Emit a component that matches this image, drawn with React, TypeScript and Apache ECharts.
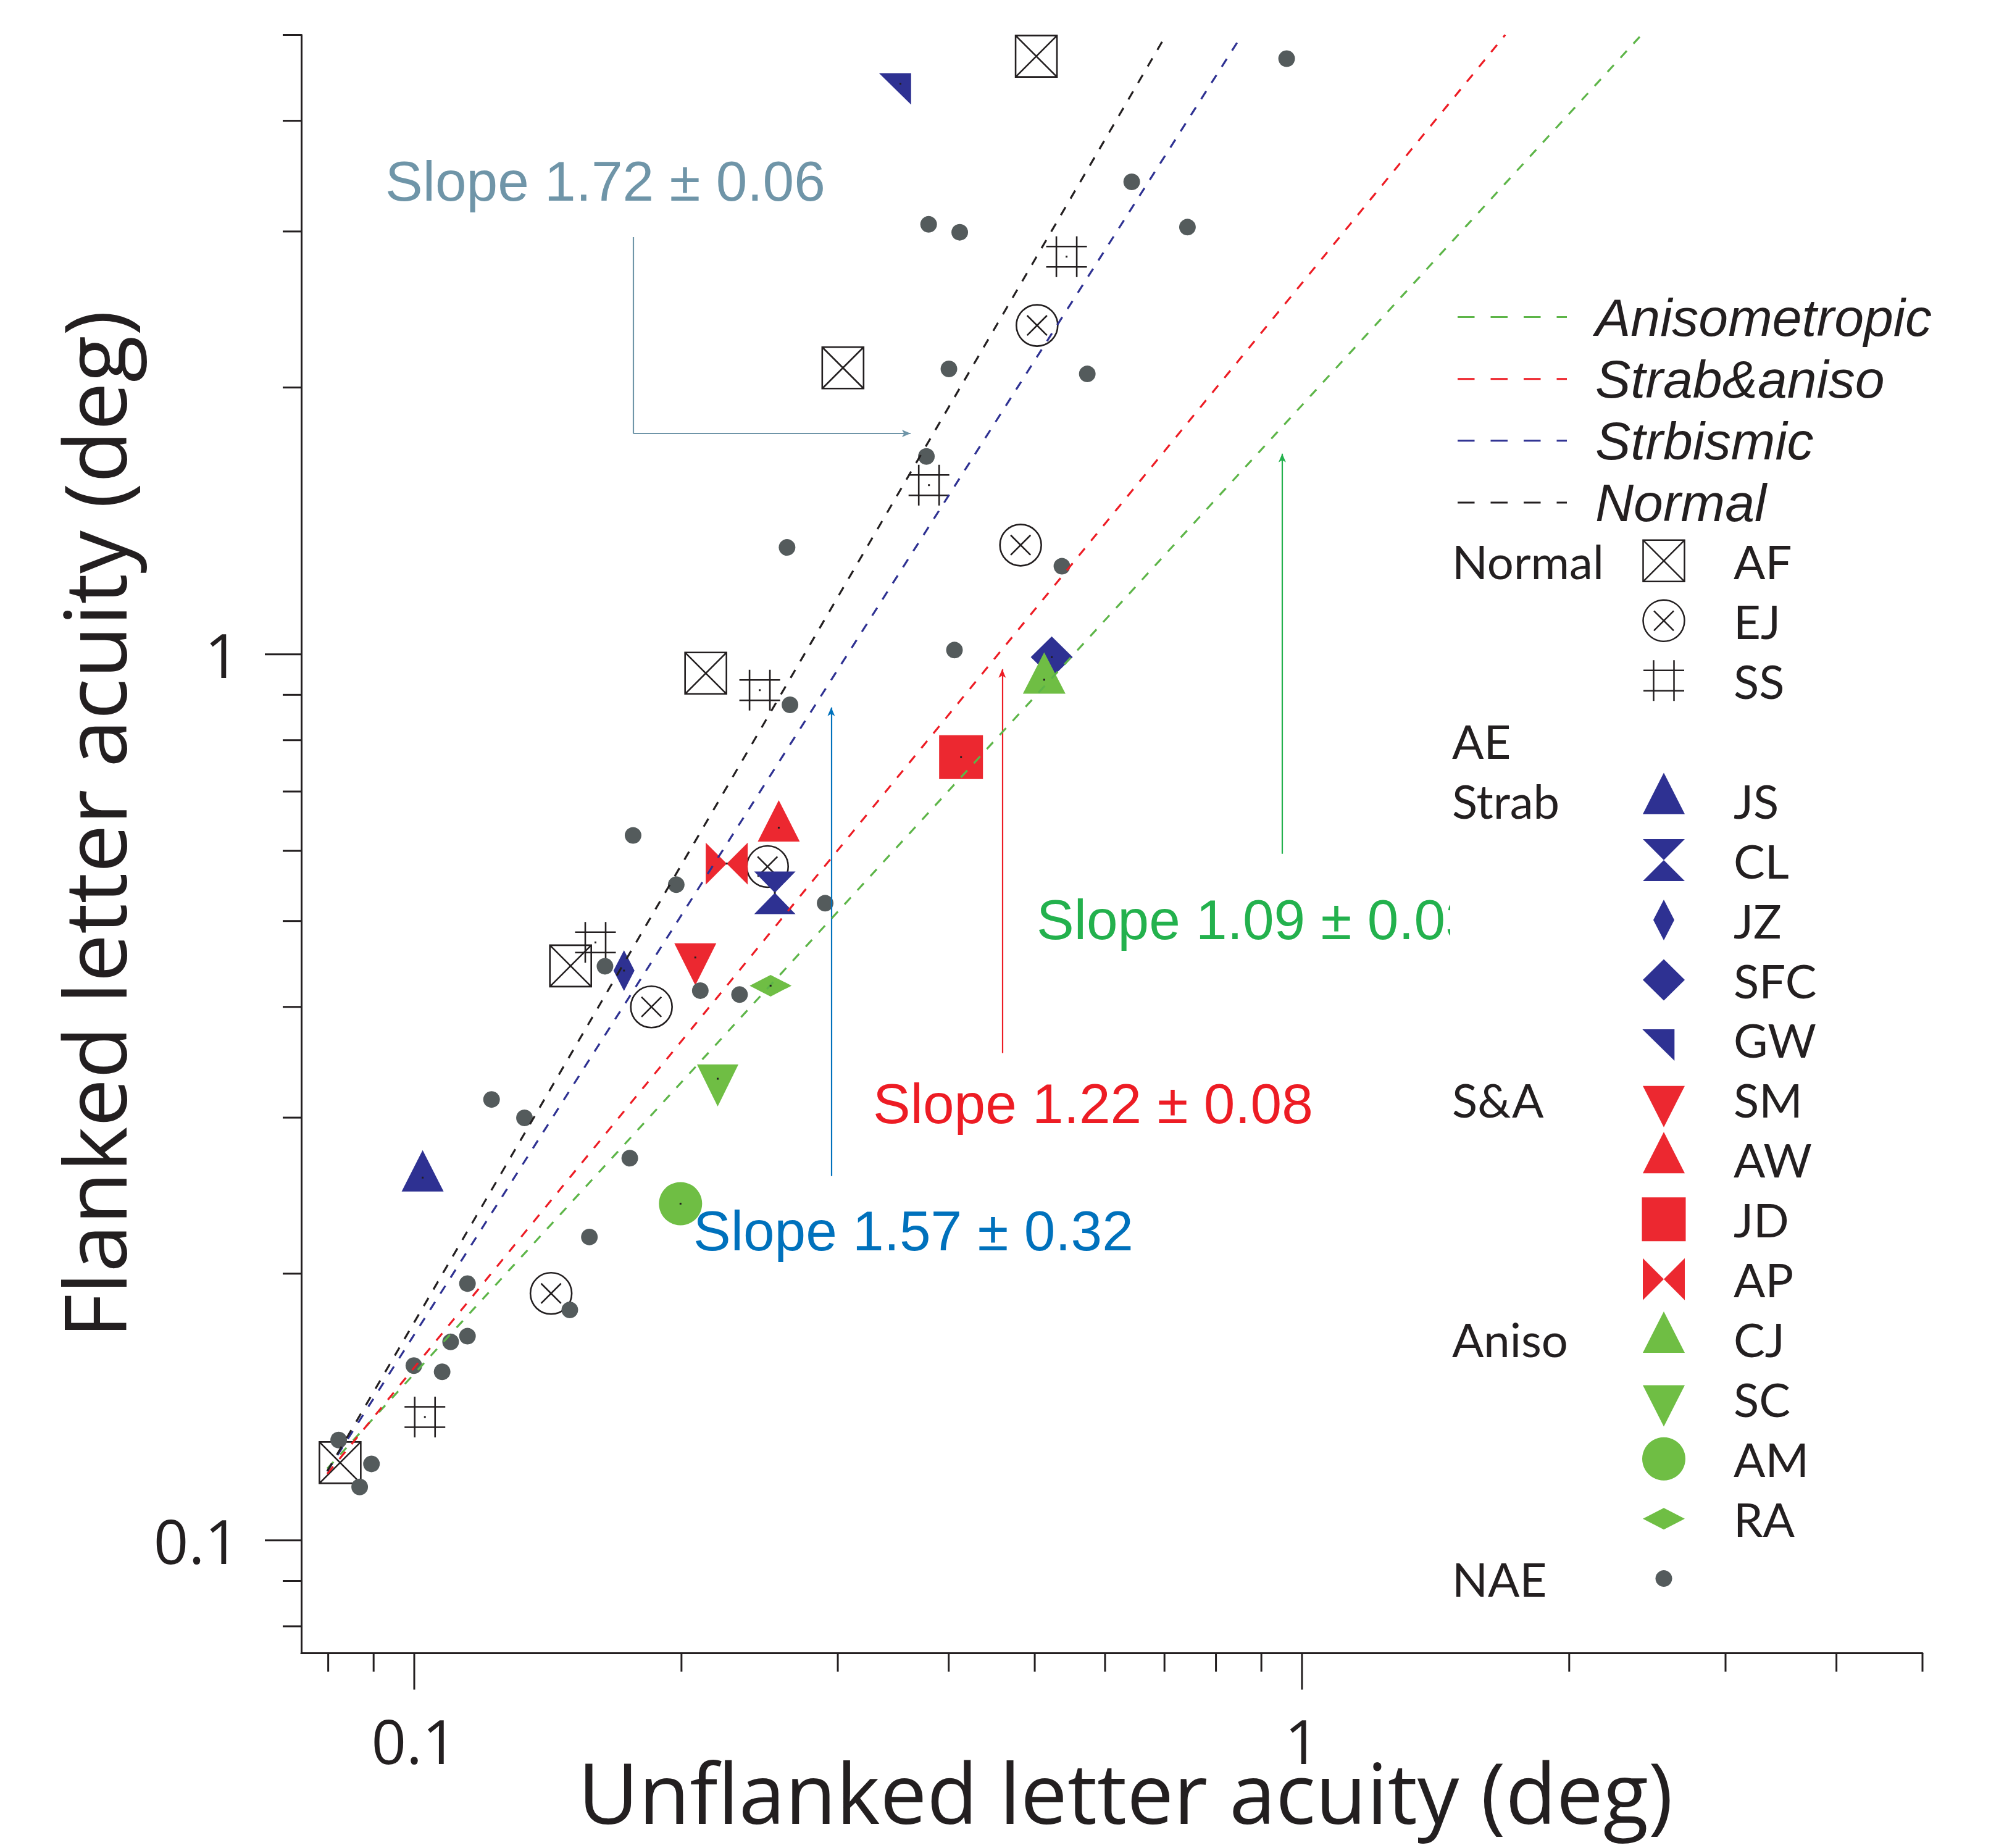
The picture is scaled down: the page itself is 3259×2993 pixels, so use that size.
import React, { useEffect, useRef } from "react";
import * as echarts from "echarts";

// ---------------- data ----------------
// Normal observers
const AF = [[0.502, 4.73], [0.304, 2.105], [0.213, 0.952], [0.15, 0.445], [0.0825, 0.1224]];
const EJ = [[0.503, 2.35], [0.482, 1.328], [0.25, 0.576], [0.185, 0.4], [0.1426, 0.19]];
const SS = [[0.543, 2.81], [0.38, 1.552], [0.245, 0.911], [0.16, 0.473], [0.1028, 0.1378]];
// Amblyopic eyes: strabismic
const JS = [[0.1022, 0.2567]];
const CL = [[0.2548, 0.538]];
const JZ = [[0.1723, 0.4396]];
const SFC = [[0.5225, 0.9926]];
const GW = [[0.3529, 4.404]];
// strabismic & anisometropic
const SM = [[0.2073, 0.4548]];
const AW = [[0.2574, 0.6373]];
const JD = [[0.413, 0.7655]];
const AP = [[0.2249, 0.5805]];
// anisometropic
const CJ = [[0.5124, 0.936]];
const SC = [[0.2197, 0.3319]];
const AM = [[0.1995, 0.2399]];
const RA = [[0.252, 0.4227]];
// non-amblyopic eyes
const NAE = [
  [0.961, 4.7], [0.643, 3.413], [0.3797, 3.056], [0.4116, 2.994], [0.743, 3.034],
  [0.4002, 2.099], [0.573, 2.072], [0.3775, 1.672], [0.263, 1.32], [0.5365, 1.257],
  [0.406, 1.011], [0.265, 0.877], [0.2903, 0.5237], [0.21, 0.4173], [0.2325, 0.413],
  [0.1764, 0.6245], [0.1973, 0.5495], [0.164, 0.4446], [0.1222, 0.3145], [0.1331, 0.2998],
  [0.1749, 0.27], [0.1575, 0.22], [0.1148, 0.1949], [0.1497, 0.182], [0.1148, 0.17],
  [0.1099, 0.1675], [0.0999, 0.1575], [0.1075, 0.155], [0.0822, 0.1298], [0.0895, 0.122],
  [0.0868, 0.1149],
];

// regression lines (end points)
const FIT_NORMAL = [[0.0798, 0.1197], [0.703, 5]];
const FIT_STRAB = [[0.0798, 0.1197], [0.856, 5]];
const FIT_SA = [[0.0798, 0.1189], [1.694, 5]];
const FIT_ANISO = [[0.0798, 0.1205], [2.412, 5]];

// annotation arrows (data coordinates)
const ARROW_NORMAL = [[0.1765, 2.957], [0.1765, 1.775], [0.3623, 1.775]];
const ARROW_STRAB = [[0.2949, 0.2577], [0.2949, 0.871]];
const ARROW_SA = [[0.4595, 0.3548], [0.4595, 0.9619]];
const ARROW_ANISO = [[0.95, 0.5955], [0.95, 1.684]];

const SLOPE_LABELS = ["Slope 1.72 ± 0.06", "Slope 1.57 ± 0.32", "Slope 1.22 ± 0.08", "Slope 1.09 ± 0.03"];

// axes
const AXIS_MIN = 0.0746;
const AXIS_MAX = 5;
const TICKS = [0.08, 0.09, 0.1, 0.2, 0.3, 0.4, 0.5, 0.6, 0.7, 0.8, 0.9, 1, 2, 3, 4, 5];
const MAJOR_TICKS = [0.1, 1];
const TICK_LABELS = ["0.1", "1"];
const X_TITLE = "Unflanked letter acuity (deg)";
const Y_TITLE = "Flanked letter acuity (deg)";

// legend
const LINE_LEGEND = ["Anisometropic", "Strab&aniso", "Strbismic", "Normal"];
const LEGEND_ROWS = ["AF", "EJ", "SS", "", "JS", "CL", "JZ", "SFC", "GW", "SM", "AW", "JD", "AP", "CJ", "SC", "AM", "RA", "NAE"];
const GROUP_LABELS = [["Normal", 0], ["AE", 3], ["Strab", 4], ["S&A", 9], ["Aniso", 13], ["NAE", 17]];

// ---------------- styles ----------------
const BLACK = "#231F20";
const BLUE = "#2E3192";
const RED = "#EC2830";
const GREEN = "#6FBE44";
const GRAY = "#545B5C";
const LINE_GREEN = "#5DB548";
const LINE_RED = "#ED1C24";
const TXT_GRAY = "#6F95A8";
const TXT_BLUE = "#0071BC";
const TXT_RED = "#ED1C24";
const TXT_GREEN = "#23B14D";
const SANS = '"Liberation Sans", Arial, sans-serif';
const AXISFONT = '"Open Sans", sans-serif';
const LEGFONT = 'Lato, sans-serif';

const SYM: Record<string, any> = {
  AF: { symbol: "path://M0,0L1,0L1,1L0,1ZM0,0L1,1M1,0L0,1", size: 67, fill: "rgba(0,0,0,0)", stroke: BLACK, z: 2 },
  EJ: { symbol: "path://M0.5,0A0.5,0.5,0,1,1,0.5,1A0.5,0.5,0,1,1,0.5,0ZM0.26,0.26L0.74,0.74M0.74,0.26L0.26,0.74", size: 67, fill: "rgba(0,0,0,0)", stroke: BLACK, z: 2 },
  SS: { symbol: "path://M0.25,0L0.25,1M0.75,0L0.75,1M0,0.25L1,0.25M0,0.75L1,0.75", size: 66, fill: "rgba(0,0,0,0)", stroke: BLACK, z: 2 },
  JS: { symbol: "triangle", size: [68, 67], fill: BLUE, offset: [0, -11], z: 3 },
  CL: { symbol: "path://M0,0L1,0L0.5,0.5ZM0.5,0.5L1,1L0,1Z", size: [67, 69], fill: BLUE, z: 3 },
  JZ: { symbol: "diamond", size: [34, 66], fill: BLUE, z: 3 },
  SFC: { symbol: "diamond", size: [68, 67], fill: BLUE, z: 3 },
  GW: { symbol: "path://M0,0L1,0L1,1Z", size: [52, 51], fill: BLUE, offset: [-8.7, 8.5], z: 3 },
  SM: { symbol: "path://M0,0L1,0L0.5,1Z", size: [68, 68], fill: RED, offset: [0, 11], z: 3 },
  AW: { symbol: "triangle", size: [68, 67], fill: RED, offset: [0, -11], z: 3 },
  JD: { symbol: "rect", size: 71, fill: RED, z: 3 },
  AP: { symbol: "path://M0,0L0.5,0.5L0,1ZM1,0L0.5,0.5L1,1Z", size: 68, fill: RED, z: 3 },
  CJ: { symbol: "triangle", size: [69, 67], fill: GREEN, offset: [0, -11], z: 3 },
  SC: { symbol: "path://M0,0L1,0L0.5,1Z", size: [67, 68], fill: GREEN, offset: [0, 11], z: 3 },
  AM: { symbol: "circle", size: 70, fill: GREEN, z: 3 },
  RA: { symbol: "diamond", size: [68, 35], fill: GREEN, z: 3 },
};

const SUBJECT_DATA: Record<string, number[][]> = { AF, EJ, SS, JS, CL, JZ, SFC, GW, SM, AW, JD, AP, CJ, SC, AM, RA };

function legendSymbol(key: string, cx: number, cy: number): any[] {
  const S = { stroke: BLACK, lineWidth: 2.5, fill: "none" };
  const poly = (pts: number[][], fill: string) => ({ type: "polygon", shape: { points: pts.map(([dx, dy]) => [cx + dx, cy + dy]) }, style: { fill } });
  const up = (fill: string) => poly([[-34, 22.3], [34, 22.3], [0, -44.7]], fill);
  const down = (fill: string) => poly([[-34, -22.3], [34, -22.3], [0, 44.7]], fill);
  switch (key) {
    case "AF":
      return [
        { type: "rect", shape: { x: cx - 33.5, y: cy - 33.5, width: 67, height: 67 }, style: S },
        { type: "line", shape: { x1: cx - 33.5, y1: cy - 33.5, x2: cx + 33.5, y2: cy + 33.5 }, style: S },
        { type: "line", shape: { x1: cx + 33.5, y1: cy - 33.5, x2: cx - 33.5, y2: cy + 33.5 }, style: S },
      ];
    case "EJ":
      return [
        { type: "circle", shape: { cx, cy, r: 33.5 }, style: S },
        { type: "line", shape: { x1: cx - 16, y1: cy - 16, x2: cx + 16, y2: cy + 16 }, style: S },
        { type: "line", shape: { x1: cx + 16, y1: cy - 16, x2: cx - 16, y2: cy + 16 }, style: S },
      ];
    case "SS":
      return [
        { type: "line", shape: { x1: cx - 16.5, y1: cy - 33, x2: cx - 16.5, y2: cy + 33 }, style: S },
        { type: "line", shape: { x1: cx + 16.5, y1: cy - 33, x2: cx + 16.5, y2: cy + 33 }, style: S },
        { type: "line", shape: { x1: cx - 33, y1: cy - 16.5, x2: cx + 33, y2: cy - 16.5 }, style: S },
        { type: "line", shape: { x1: cx - 33, y1: cy + 16.5, x2: cx + 33, y2: cy + 16.5 }, style: S },
      ];
    case "JS": return [up(BLUE)];
    case "CL": return [poly([[-34, -34], [34, -34], [0, 0]], BLUE), poly([[0, 0], [34, 34], [-34, 34]], BLUE)];
    case "JZ": return [poly([[0, -33], [17, 0], [0, 33], [-17, 0]], BLUE)];
    case "SFC": return [poly([[0, -33.5], [34, 0], [0, 33.5], [-34, 0]], BLUE)];
    case "GW": return [poly([[-34.7, -17], [17.3, -17], [17.3, 34]], BLUE)];
    case "SM": return [down(RED)];
    case "AW": return [up(RED)];
    case "JD": return [{ type: "rect", shape: { x: cx - 35.5, y: cy - 35.5, width: 71, height: 71 }, style: { fill: RED } }];
    case "AP": return [poly([[-34, -34], [0, 0], [-34, 34]], RED), poly([[34, -34], [0, 0], [34, 34]], RED)];
    case "CJ": return [up(GREEN)];
    case "SC": return [down(GREEN)];
    case "AM": return [{ type: "circle", shape: { cx, cy, r: 35 }, style: { fill: GREEN } }];
    case "RA": return [poly([[0, -17.5], [34, 0], [0, 17.5], [-34, 0]], GREEN)];
    case "NAE": return [{ type: "circle", shape: { cx, cy, r: 13.5 }, style: { fill: GRAY } }];
  }
  return [];
}

function txt(text: string, x: number, y: number, size: number, family: string, fill: string, extra: any = {}, el: any = {}) {
  return {
    type: "text", x, y, z: 50, ...el,
    style: { text, fontSize: size, fontFamily: family, fill, align: "left", verticalAlign: "middle", ...extra },
  };
}

function buildOption() {
  const isMajor = (v: number) => MAJOR_TICKS.some((m) => Math.abs(m - v) < 1e-9);
  const fmt = (v: number) => {
    const i = MAJOR_TICKS.findIndex((m) => Math.abs(m - v) < 1e-9);
    return i >= 0 ? TICK_LABELS[i] : "";
  };

  const subjectSeries = Object.keys(SUBJECT_DATA).map((k) => {
    const s = SYM[k];
    return {
      type: "scatter", name: k, data: SUBJECT_DATA[k], symbol: s.symbol, symbolSize: s.size,
      symbolOffset: s.offset || [0, 0], z: s.z, silent: true, clip: false,
      itemStyle: s.stroke ? { color: s.fill, borderColor: s.stroke, borderWidth: 2.6, opacity: 1 } : { color: s.fill, opacity: 1 },
      emphasis: { disabled: true },
    };
  });

  const arrowStyle = (color: string) => ({ color, width: 2.2, type: "solid" });
  const seg = (a: number[], b: number[], color: string, arrow: boolean) => [
    { coord: a, symbol: "none", lineStyle: arrowStyle(color) },
    { coord: b, symbol: arrow ? "arrow" : "none", lineStyle: arrowStyle(color) },
  ];

  const fitSeries = [
    [FIT_ANISO, LINE_GREEN], [FIT_SA, LINE_RED], [FIT_STRAB, BLUE], [FIT_NORMAL, BLACK],
  ].map(([d, c]: any) => ({
    type: "line", data: d, symbol: "none", z: 5, silent: true, clip: false,
    lineStyle: { color: c, width: 3.2, type: [15, 16] },
  }));

  const allSubjects = Object.keys(SUBJECT_DATA).reduce((acc: number[][], k) => acc.concat(SUBJECT_DATA[k]), []);

  const graphic: any[] = [];
  // axis titles
  graphic.push(txt(X_TITLE, 1823, 2902, 135, AXISFONT, BLACK, { align: "center", lineHeight: 110 }));
  graphic.push(txt(Y_TITLE, 151, 1335, 139, AXISFONT, BLACK, { align: "center", lineHeight: 110 }, { rotation: Math.PI / 2 }));
  // slope annotations
  graphic.push(txt(SLOPE_LABELS[0], 624, 293.5, 91, SANS, TXT_GRAY));
  graphic.push(txt(SLOPE_LABELS[1], 1123, 1993.5, 91, SANS, TXT_BLUE));
  graphic.push(txt(SLOPE_LABELS[2], 1414, 1787.5, 91, SANS, TXT_RED));
  graphic.push(txt(SLOPE_LABELS[3], 1679, 1489.5, 91, SANS, TXT_GREEN));
  graphic.push({ type: "rect", z: 60, shape: { x: 2349, y: 1430, width: 80, height: 120 }, style: { fill: "#ffffff" } });
  // line legend
  const lineCols = [LINE_GREEN, LINE_RED, BLUE, BLACK];
  LINE_LEGEND.forEach((t, i) => {
    const y = 513.6 + i * 100.1;
    graphic.push({ type: "line", z: 50, shape: { x1: 2361, y1: y, x2: 2538, y2: y }, style: { stroke: lineCols[i], lineWidth: 3, lineDash: [27.5, 26] } });
    graphic.push(txt(t, 2584, y, 86, SANS, BLACK, { fontStyle: "italic" }));
  });
  // symbol legend
  const row0 = 908.3;
  const step = 96.96;
  LEGEND_ROWS.forEach((k, i) => {
    if (!k) return;
    const y = row0 + i * step;
    legendSymbol(k, 2695, y).forEach((e) => graphic.push({ ...e, z: 50 }));
    if (k !== "NAE") graphic.push(txt(k, 2808, y, 76, LEGFONT, BLACK));
  });
  GROUP_LABELS.forEach(([t, i]: any) => graphic.push(txt(t, 2352, row0 + i * step, 76, LEGFONT, BLACK)));

  const axisCommon = {
    type: "log", logBase: 10, min: AXIS_MIN, max: AXIS_MAX,
    axisLine: { show: true, onZero: false, lineStyle: { color: BLACK, width: 3 } },
    axisTick: { show: false }, splitLine: { show: false }, minorTick: { show: false },
  };

  return {
    animation: false,
    backgroundColor: "#ffffff",
    grid: { left: 488, top: 56.5, width: 2626, height: 2621, containLabel: false },
    xAxis: { ...axisCommon, axisLabel: { formatter: fmt, fontSize: 99, lineHeight: 74, fontFamily: AXISFONT, color: BLACK, margin: 104 } },
    yAxis: { ...axisCommon, axisLabel: { formatter: fmt, fontSize: 99, lineHeight: 74, fontFamily: AXISFONT, color: BLACK, margin: 100 } },
    series: [
      {
        type: "custom", name: "xticks", coordinateSystem: "cartesian2d", clip: false, silent: true, z: 10,
        data: TICKS.map((v) => [v, AXIS_MIN]),
        renderItem: (_p: any, api: any) => {
          const v = api.value(0);
          const p = api.coord([v, api.value(1)]);
          const len = isMajor(v) ? 59 : 30;
          return { type: "line", shape: { x1: p[0], y1: p[1], x2: p[0], y2: p[1] + len }, style: { stroke: BLACK, lineWidth: 3 } };
        },
      },
      {
        type: "custom", name: "yticks", coordinateSystem: "cartesian2d", clip: false, silent: true, z: 10,
        data: TICKS.map((v) => [AXIS_MIN, v]),
        renderItem: (_p: any, api: any) => {
          const v = api.value(1);
          const p = api.coord([api.value(0), v]);
          const len = isMajor(v) ? 59 : 30;
          return { type: "line", shape: { x1: p[0], y1: p[1], x2: p[0] - len, y2: p[1] }, style: { stroke: BLACK, lineWidth: 3 } };
        },
      },
      ...subjectSeries,
      {
        type: "scatter", name: "NAE", data: NAE, symbol: "circle", symbolSize: 27, z: 4, silent: true,
        itemStyle: { color: GRAY, opacity: 1 }, emphasis: { disabled: true },
        markLine: {
          silent: true, animation: false, symbolSize: [9, 14], label: { show: false }, emphasis: { disabled: true },
          data: [
            seg(ARROW_NORMAL[0], ARROW_NORMAL[1], TXT_GRAY, false),
            seg(ARROW_NORMAL[1], ARROW_NORMAL[2], TXT_GRAY, true),
            seg(ARROW_STRAB[0], ARROW_STRAB[1], TXT_BLUE, true),
            seg(ARROW_SA[0], ARROW_SA[1], TXT_RED, true),
            seg(ARROW_ANISO[0], ARROW_ANISO[1], TXT_GREEN, true),
          ],
        },
      },
      ...fitSeries,
      {
        type: "scatter", name: "centres", data: allSubjects, symbol: "rect", symbolSize: 3, z: 6, silent: true,
        itemStyle: { color: BLACK, opacity: 1 }, emphasis: { disabled: true },
      },
    ],
    graphic: { elements: graphic },
  };
}

export default function App() {
  const ref = useRef<HTMLDivElement>(null);
  useEffect(() => {
    const chart = echarts.init(ref.current as HTMLDivElement, null, { renderer: "svg" });
    chart.setOption(buildOption() as any);
    return () => chart.dispose();
  }, []);
  return (
    <div
      ref={ref}
      style={{ position: "absolute", left: 0, top: 0, width: 3259, height: 2993, background: "#ffffff" }}
    />
  );
}
